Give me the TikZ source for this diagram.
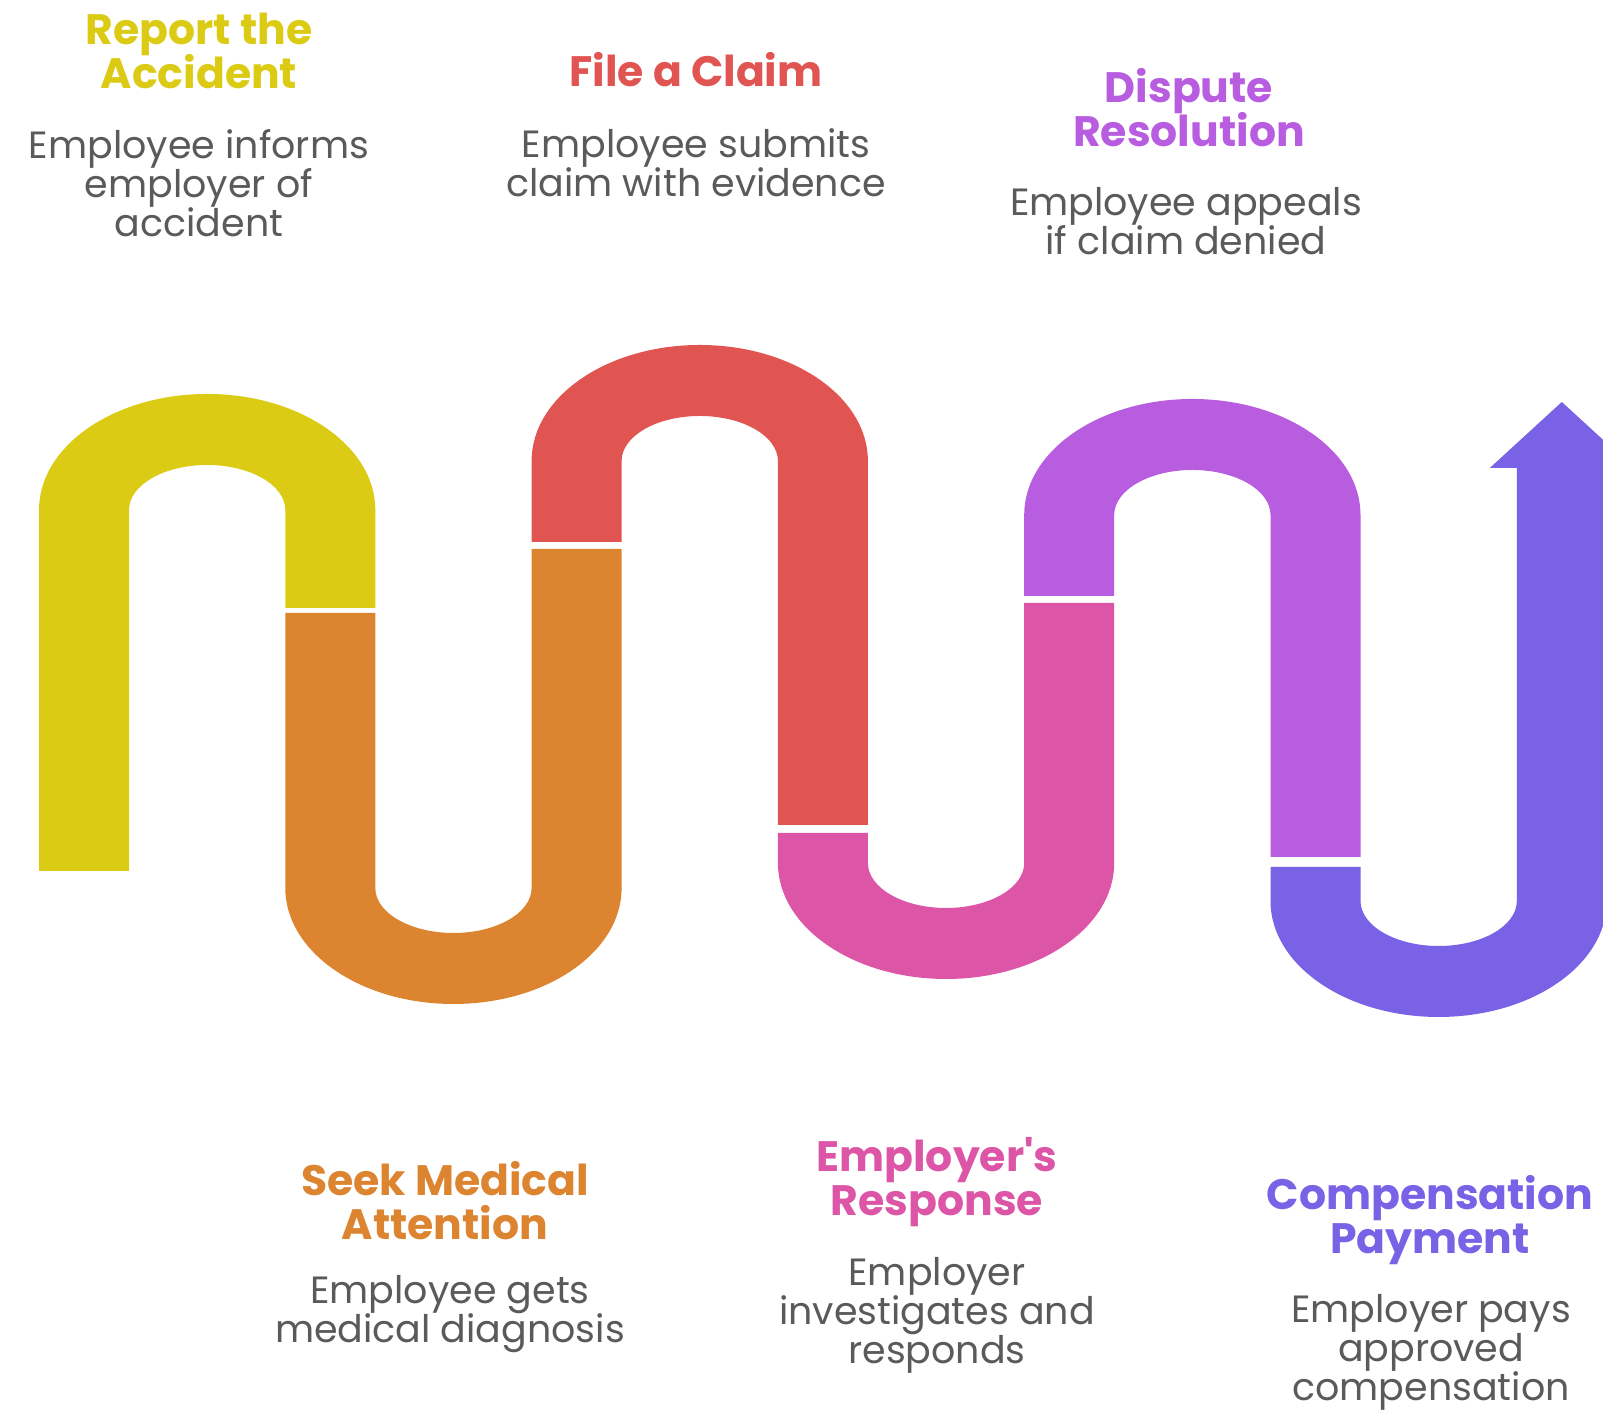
\documentclass[tikz,border=0pt]{standalone}
\usepackage{fontspec}
\setmainfont{Poppins}[Ligatures=TeXOff]
\setlength{\lineskiplimit}{-20pt}
\definecolor{cyellow}{HTML}{DCCB14}
\definecolor{corange}{HTML}{DC8430}
\definecolor{cred}{HTML}{E05552}
\definecolor{cpink}{HTML}{DC55A6}
\definecolor{cpurple}{HTML}{B85CE0}
\definecolor{cviolet}{HTML}{7A62E6}
\definecolor{cgray}{HTML}{5A5A5A}
\begin{document}
\begin{tikzpicture}[x=0.01cm, y=0.01cm,
		title/.style={font=\bfseries\fontsize{12.1}{12.5}\selectfont, align=center},
		desc/.style={font=\fontsize{10.8}{11.1}\selectfont, align=center, text=cgray}]
		\useasboundingbox (0,0) rectangle (1603,1410);
		\clip (0,0) rectangle (1603,1410);

		% upper arches
		\fill [cyellow] (39,539) -- (39,900) arc [start angle=180, end angle=0, x radius=168.15, y radius=116] -- (375.3,802) -- (285.3,802) -- (285.3,900) arc [start angle=0, end angle=180, x radius=78.15, y radius=45] -- (129,539) -- cycle;
		\fill [cred] (531.6,868) -- (531.6,949) arc [start angle=180, end angle=0, x radius=168.15, y radius=116] -- (867.9,585) -- (777.9,585) -- (777.9,949) arc [start angle=0, end angle=180, x radius=78.15, y radius=45] -- (621.6,868) -- cycle;
		\fill [cpurple] (1024.2,814) -- (1024.2,895) arc [start angle=180, end angle=0, x radius=168.15, y radius=116] -- (1360.5,553) -- (1270.5,553) -- (1270.5,895) arc [start angle=0, end angle=180, x radius=78.15, y radius=45] -- (1114.2,814) -- cycle;

		% lower bends
		\fill [corange] (285.3,797) -- (285.3,522) arc [start angle=180, end angle=360, x radius=168.15, y radius=116] -- (621.6,861) -- (531.6,861) -- (531.6,522) arc [start angle=360, end angle=180, x radius=78.15, y radius=45] -- (375.3,797) -- cycle;
		\fill [cpink] (777.9,577) -- (777.9,547) arc [start angle=180, end angle=360, x radius=168.15, y radius=116] -- (1114.2,807) -- (1024.2,807) -- (1024.2,547) arc [start angle=360, end angle=180, x radius=78.15, y radius=45] -- (867.9,577) -- cycle;

		% last bend with arrow head
		\fill [cviolet] (1270.5,543) -- (1270.5,509) arc [start angle=180, end angle=360, x radius=168.15, y radius=116] -- (1606.8,942) -- (1633.8,942) -- (1561.8,1008) -- (1489.8,942) -- (1516.8,942) -- (1516.8,509) arc [start angle=360, end angle=180, x radius=78.15, y radius=45] -- (1360.5,543) -- cycle;

		% steps above
		\node[title, text=cyellow] (report) at (199,1359) {Report the\\Accident};
		\node[desc] (reportdesc) at (199,1227) {Employee informs\\employer of\\accident};
		\node[title, text=cred] (claim) at (696,1340) {File a Claim};
		\node[desc] (claimdesc) at (696,1247) {Employee submits\\claim with evidence};
		\node[title, text=cpurple] (dispute) at (1189,1302) {Dispute\\Resolution};
		\node[desc] (disputedesc) at (1186,1189) {Employee appeals\\if claim denied};

		% steps below
		\node[title, text=corange] (medical) at (445,209) {Seek Medical\\Attention};
		\node[desc] (medicaldesc) at (450,96) {Employee gets\\medical diagnosis};
		\node[title, text=cpink] (response) at (937,228) {Employer's\\Response};
		\node[desc] (responsedesc) at (937,95) {Employer\\investigates and\\responds};
		\node[title, text=cviolet] (payment) at (1430,190) {Compensation\\Payment};
		\node[desc] (paymentdesc) at (1431,58) {Employer pays\\approved\\compensation};
	\end{tikzpicture}
\end{document}
